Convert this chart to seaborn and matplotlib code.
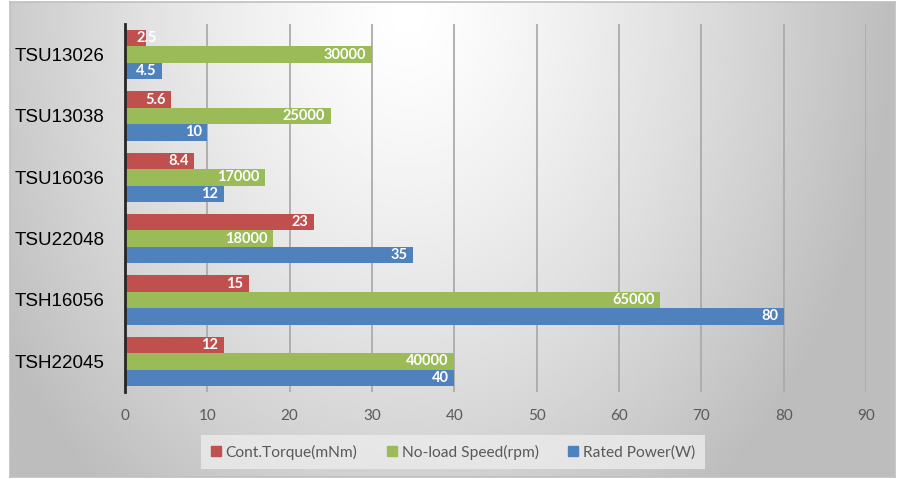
import matplotlib
matplotlib.use("Agg")
import matplotlib.pyplot as plt
import matplotlib.patches as mpatches
import numpy as np
import pandas as pd
import seaborn as sns

# Motor specs, top to bottom as shown in the chart
models = ['TSU13026', 'TSU13038', 'TSU16036', 'TSU22048', 'TSH16056', 'TSH22045']
torque_mnm = [2.5, 5.6, 8.4, 23, 15, 12]
speed_rpm = [30000, 25000, 17000, 18000, 65000, 40000]
power_w = [4.5, 10, 12, 35, 80, 40]

series_names = ['Cont.Torque(mNm)', 'No-load Speed(rpm)', 'Rated Power(W)']
series_colors = ['#C0504D', '#9BBB59', '#4F81BD']
x_ticks = [0, 10, 20, 30, 40, 50, 60, 70, 80, 90]

# speed is drawn in thousands of rpm so it fits the common axis
lengths = [torque_mnm, [s / 1000 for s in speed_rpm], power_w]
labels = [[f'{v:g}' for v in torque_mnm],
          [str(v) for v in speed_rpm],
          [f'{v:g}' for v in power_w]]

df = pd.DataFrame({
    'Model': models * 3,
    'Series': [n for n in series_names for _ in models],
    'Value': [v for arr in lengths for v in arr],
})

sns.set_theme(style="white")
plt.rcParams['font.family'] = ['Lato', 'DejaVu Sans']

fig = plt.figure(figsize=(8.98, 4.79), dpi=100)
fig.patch.set_facecolor('white')

# gradient panel behind the chart
bg = fig.add_axes([10 / 898, 2 / 479, 885 / 898, 475 / 479], zorder=-5)
gx, gy = np.meshgrid(np.linspace(0, 1, 300), np.linspace(0, 1, 200))
d = np.sqrt(((gx - 0.45) / 0.55) ** 2 + ((gy - 0.02) / 1.3) ** 2)
grad = 1 - 0.26 * np.clip(d, 0, 1) ** 1.3
bg.imshow(grad, cmap='gray', vmin=0, vmax=1, aspect='auto',
          extent=[0, 1, 1, 0], interpolation='bilinear')
bg.set_xlim(0, 1)
bg.set_ylim(1, 0)
bg.set_xticks([])
bg.set_yticks([])
for s in bg.spines.values():
    s.set_color('#bfbfbf')
    s.set_linewidth(1.2)

ax = fig.add_axes([125 / 898, 87 / 479, 741 / 898, 368 / 479])
ax.set_facecolor('none')

sns.barplot(data=df, y='Model', x='Value', hue='Series', hue_order=series_names,
            palette=series_colors, orient='h', width=0.8, saturation=1,
            edgecolor='none', ax=ax)

ax.set_xlim(0, 90)
ax.set_xticks(x_ticks)
ax.set_xlabel('')
ax.set_ylabel('')
ax.grid(axis='x', color='#ababab', linewidth=1.3)
ax.set_axisbelow(True)
for side in ['top', 'right', 'bottom']:
    ax.spines[side].set_visible(False)
ax.spines['left'].set_color('#262626')
ax.spines['left'].set_linewidth(2)
ax.tick_params(axis='x', length=0, pad=12, labelsize=11, labelcolor='#595959')
ax.tick_params(axis='y', length=0, pad=15)
for t in ax.get_yticklabels():
    t.set_fontfamily(['Liberation Sans', 'DejaVu Sans'])
    t.set_fontsize(13.5)
    t.set_color('black')

# value labels at the inside end of each bar
for cont, labs in zip(ax.containers, labels):
    for bar, lab in zip(cont, labs):
        w = bar.get_width()
        yc = bar.get_y() + bar.get_height() / 2
        if w < 4:
            ax.annotate(lab, (0, yc), xytext=(8, 0), textcoords='offset points',
                        ha='left', va='center', color='white', fontsize=10.5,
                        fontweight='bold')
        else:
            ax.annotate(lab, (w, yc), xytext=(-4, 0), textcoords='offset points',
                        ha='right', va='center', color='white', fontsize=10.5,
                        fontweight='bold')

ax.get_legend().remove()
handles = [mpatches.Patch(color=c, label=n) for c, n in zip(series_colors, series_names)]
leg = fig.legend(handles=handles, loc='center', bbox_to_anchor=(453 / 898, 27 / 479),
                 ncol=3, frameon=True, fancybox=False, fontsize=11.2,
                 handlelength=0.65, handleheight=0.65, handletextpad=0.3,
                 columnspacing=1.9, borderpad=0.6)
leg.get_frame().set_facecolor('#ececec')
leg.get_frame().set_edgecolor('none')
leg.get_frame().set_alpha(0.8)
for t in leg.get_texts():
    t.set_color('#595959')

fig.savefig('out.png', dpi=100)
